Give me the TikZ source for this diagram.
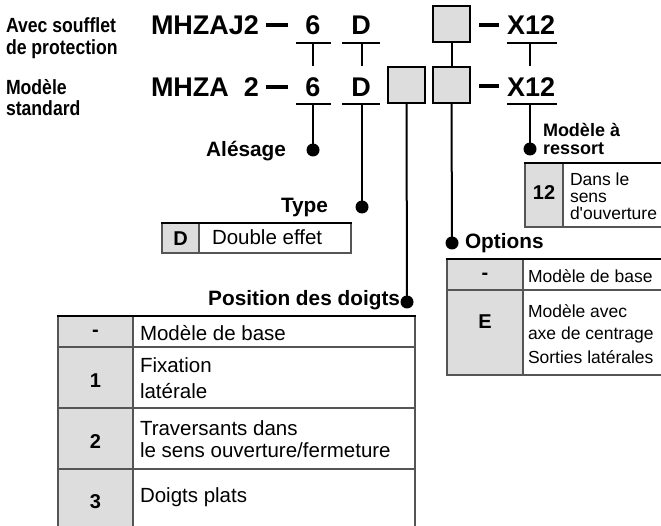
\documentclass[tikz,border=0pt]{standalone}
\usepackage{fontspec}
\setmainfont{Liberation Sans}
\newfontfamily\condfont[FakeStretch=0.86]{Liberation Sans}
\definecolor{keygray}{HTML}{DDDDDD}
\definecolor{rulegray}{HTML}{555555}
\begin{document}
\begin{tikzpicture}[x=1pt,y=-1pt,
  every node/.style={inner sep=0pt, outer sep=0pt},
  lbl/.style={font=\condfont\bfseries\fontsize{20.5}{20.5}\selectfont, anchor=base west},
  code/.style={font=\bfseries\fontsize{27}{27}\selectfont},
  ttl/.style={font=\bfseries\fontsize{20.8}{20.8}\selectfont},
  ttls/.style={font=\bfseries\fontsize{18}{18}\selectfont, anchor=base west},
  cellL/.style={font=\fontsize{20.5}{20.5}\selectfont, anchor=base west},
  cellS/.style={font=\fontsize{17.5}{17.5}\selectfont, anchor=base west},
  keyL/.style={font=\bfseries\fontsize{20}{20}\selectfont},
  under/.style={line width=2pt},
  stem/.style={line width=2pt},
  dot/.style={circle, fill=black, minimum size=13pt},
  slot/.style={draw=black, line width=2pt, fill=keygray, minimum width=37pt, minimum height=36pt},
  dashbar/.style={line width=3.5pt},
  toprule/.style={line width=2pt, black},
  cellrule/.style={line width=1.2pt, rulegray},
]
\useasboundingbox (0,0) rectangle (661,526);

% left labels
\node[lbl] (avec) at (6,33) {Avec soufflet};
\node[lbl] (prot) at (6,55) {de protection};
\node[lbl] (mod) at (6,95) {Modèle};
\node[lbl] (std) at (6,116) {standard};

% row 1
\node[code, anchor=base west] (c1) at (151,35) {MHZAJ2};
\coordinate (da1) at (266,25); \coordinate (db1) at (288,25);
\draw[dashbar] (da1) -- (db1);
\node[code, anchor=base] (six1) at (313,35) {6};
\node[code, anchor=base] (d1) at (361,35) {D};
\node[slot] (b1) at (451.5,24) {};
\coordinate (xa1) at (479,25); \coordinate (xb1) at (499,25);
\draw[dashbar] (xa1) -- (xb1);
\node[code, anchor=base west] (x1) at (507,35) {X12};
\draw[under] (296,43) -- (331,43) (342,43) -- (380,43) (507,43) -- (557,43);

% row 2
\node[code, anchor=base west] (c2) at (151,97) {MHZA\phantom{J}2};
\coordinate (da2) at (266,87); \coordinate (db2) at (288,87);
\draw[dashbar] (da2) -- (db2);
\node[code, anchor=base] (six2) at (313,97) {6};
\node[code, anchor=base] (d2) at (361,97) {D};
\node[slot] (b2) at (406.5,85.5) {};
\node[slot] (b3) at (451.5,85.5) {};
\coordinate (xa2) at (479,86); \coordinate (xb2) at (499,86);
\draw[dashbar] (xa2) -- (xb2);
\node[code, anchor=base west] (x2) at (507,97) {X12};
\draw[under] (296,104.5) -- (331,104.5) (342,104.5) -- (380,104.5) (507,104.5) -- (557,104.5);

% stems between rows
\coordinate (s6a) at (313,43); \coordinate (s6b) at (313,66);
\coordinate (sDa) at (362,43); \coordinate (sDb) at (362,66);
\coordinate (sXa) at (530,43); \coordinate (sXb) at (530,66);
\draw[stem] (s6a) -- (s6b) (sDa) -- (sDb) (sXa) -- (sXb);
\draw[stem] (b1.south) -- (b3.north);

% dots and labels
\node[dot] (dAl) at (313,150) {};
\node[ttl, anchor=base east] (tAl) at (286,157) {Alésage};
\coordinate (u6) at (313,104.5);
\draw[stem] (u6) -- (dAl.center);

\node[dot] (dTy) at (362,207) {};
\node[ttl, anchor=base east] (tTy) at (328,213) {Type};
\coordinate (uD) at (362,104.5);
\draw[stem] (uD) -- (dTy.center);

\node[dot] (dPo) at (407,302) {};
\node[ttl, anchor=base east] (tPo) at (400,306) {Position des doigts};
\draw[stem] (b2.south) -- (dPo.center);

\node[dot] (dOp) at (452,243) {};
\node[ttl, anchor=base west] (tOp) at (465,249) {Options};
\draw[stem] (b3.south) -- (dOp.center);

\node[dot] (dRe) at (530,149) {};
\node[ttls] (tRe1) at (543,137) {Modèle à};
\node[ttls] (tRe2) at (543,155) {ressort};
\coordinate (uX) at (530,104.5);
\draw[stem] (uX) -- (dRe.center);

% table: Type
\fill[keygray] (162,223) rectangle (199,253);
\draw[cellrule] (162,223) -- (162,253) -- (351,253) -- (351,223) (199,223) -- (199,253);
\draw[toprule] (161,223) -- (352,223);
\node[keyL] (kD) at (180.5,238.5) {D};
\node[cellL] (vD) at (212,245) {Double effet};

% table: ressort
\fill[keygray] (525,163) rectangle (563,227);
\draw[cellrule] (525,163) -- (525,227) -- (661,227) (563,163) -- (563,227);
\draw[toprule] (524,163) -- (661,163);
\node[keyL] (k12) at (544,193) {12};
\node[cellS] (v12a) at (570,186) {Dans le};
\node[cellS] (v12b) at (570,203) {sens};
\node[cellS] (v12c) at (570,220) {d\textquotesingle ouverture};

% table: options
\fill[keygray] (447,259) rectangle (523,375);
\draw[cellrule] (447,259) -- (447,375) -- (661,375) (523,259) -- (523,375) (447,290) -- (661,290);
\draw[toprule] (446,259) -- (661,259);
\node[keyL] (kO1) at (485,276) {-};
\node[cellS] (vO1) at (528,283) {Modèle de base};
\node[keyL] (kO2) at (485,322) {E};
\node[cellS] (vO2a) at (528,318) {Modèle avec};
\node[cellS] (vO2b) at (528,340) {axe de centrage};
\node[cellS] (vO2c) at (528,363) {Sorties latérales};

% table: position des doigts
\fill[keygray] (58,316) rectangle (133,526);
\draw[cellrule] (58,316) -- (58,526) (133,316) -- (133,526) (415,316) -- (415,526);
\draw[cellrule] (58,347) -- (415,347) (58,408) -- (415,408) (58,469) -- (415,469);
\draw[toprule] (57,316) -- (416,316);
\node[keyL] (kP1) at (95.5,333) {-};
\node[cellL] (vP1) at (140,341) {Modèle de base};
\node[keyL] (kP2) at (95.5,381) {1};
\node[cellL] (vP2a) at (140,373) {Fixation};
\node[cellL] (vP2b) at (140,398) {latérale};
\node[keyL] (kP3) at (95.5,442) {2};
\node[cellL] (vP3a) at (140,435) {Traversants dans};
\node[cellL] (vP3b) at (140,457) {le sens ouverture/fermeture};
\node[keyL] (kP4) at (95.5,502) {3};
\node[cellL] (vP4) at (140,502) {Doigts plats};
\end{tikzpicture}
\end{document}
